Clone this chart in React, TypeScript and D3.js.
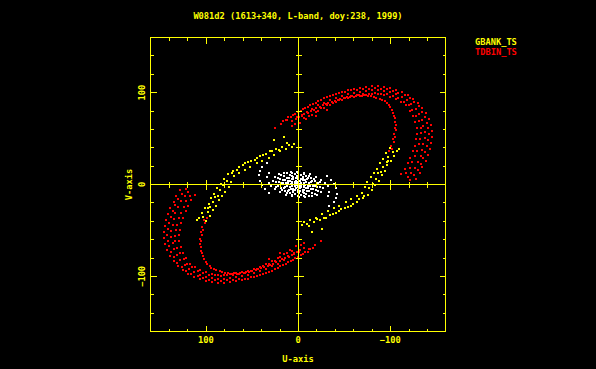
import * as d3 from 'd3';

const W = 596;
const H = 369;
const FRAME = { left: 150.5, right: 445.5, top: 37.5, bottom: 331.5 };
const LIMIT = 160;
const FONT = "'DejaVu Sans Mono', 'Liberation Mono', monospace";
const YELLOW = '#ffff00';
const RED = '#ff0000';

const TITLE = 'W081d2 (1613+340, L-band, doy:238, 1999)';
const SOURCES = ['GBANK_TS', 'TDBIN_TS'];
const U_LABELS = [100, 0, -100];
const V_LABELS = [100, 0, -100];

type Pt = [number, number];

// TDBIN_TS tracks (u, v); each visibility is also drawn at (-u, -v)
const redOuter: Pt[] = [
  [16, 69], [11, 73], [5, 76], [0, 79], [-5, 82], [-11, 84], [-16, 88], [-22, 91], [-28, 94], [-35, 96],
  [-41, 99], [-48, 101], [-54, 103], [-61, 104], [-67, 105], [-74, 106], [-80, 107], [-87, 107], [-93, 106],
  [-100, 105], [-106, 103], [-113, 101], [-119, 97], [-125, 93], [-130, 89], [-134, 83], [-139, 78],
  [-142, 71], [-144, 65], [-145, 58], [-145, 52], [-144, 45], [-143, 39], [-141, 32], [-139, 26],
  [-135, 19], [-132, 13], [-128, 6],
];
const redOuter2: Pt[] = [
  [13, 70], [8, 74], [3, 77], [-3, 80], [-8, 83], [-13, 86], [-19, 89], [-25, 92], [-31, 95], [-38, 97],
  [-44, 100], [-51, 101], [-57, 103], [-64, 103], [-70, 104], [-77, 104], [-84, 105], [-90, 104], [-97, 104],
  [-103, 102], [-109, 100], [-116, 97], [-121, 94], [-126, 90], [-131, 85], [-135, 79], [-138, 73],
  [-140, 67], [-141, 61], [-142, 55], [-141, 48], [-140, 42], [-138, 35], [-136, 29], [-133, 22],
  [-130, 16], [-126, 10], [-122, 5],
];
const redMid: Pt[] = [
  [6, 69], [1, 73], [-4, 76], [-10, 79], [-15, 82], [-22, 86], [-28, 89], [-35, 92], [-41, 94], [-48, 96],
  [-54, 99], [-61, 100], [-67, 101], [-74, 102], [-80, 103], [-87, 103], [-93, 102], [-100, 101],
  [-106, 99], [-113, 95], [-118, 92], [-123, 88], [-128, 82], [-131, 77], [-134, 70], [-136, 64],
  [-138, 57], [-138, 51], [-136, 44], [-135, 38], [-133, 31], [-130, 25], [-127, 18], [-123, 13], [-119, 8],
];
const redMid2: Pt[] = [
  [-6, 72], [-12, 75], [-19, 79], [-25, 83], [-31, 86], [-38, 89], [-45, 92], [-51, 94], [-57, 96],
  [-64, 97], [-71, 98], [-77, 99], [-84, 100], [-90, 99], [-97, 98], [-103, 96], [-109, 94], [-115, 90],
  [-120, 86], [-124, 81], [-128, 75], [-131, 69], [-133, 62], [-133, 56], [-132, 50], [-131, 44],
  [-129, 37], [-127, 31], [-124, 24], [-121, 18], [-117, 12],
];
const redInnerBand: Pt[] = [
  [-2, 67], [-9, 71], [-15, 76], [-22, 80], [-28, 83], [-35, 87], [-41, 90], [-48, 92], [-54, 94],
  [-61, 95], [-67, 96], [-74, 97], [-80, 99], [-87, 99], [-93, 97], [-100, 95], [-106, 93], [-112, 90],
  [-117, 86], [-121, 80], [-125, 75], [-127, 68], [-129, 62], [-129, 55], [-128, 49], [-127, 42],
  [-125, 36], [-122, 29], [-119, 23], [-116, 17], [-112, 11],
];
const redInner: Pt[] = [
  [2, 71], [-4, 75], [-11, 78], [-17, 81], [-24, 84], [-30, 88], [-37, 90], [-43, 92], [-50, 94],
  [-56, 95], [-63, 96], [-69, 96], [-76, 96], [-82, 95], [-89, 93], [-94, 91], [-99, 87], [-102, 81],
  [-104, 75], [-105, 68], [-105, 62], [-104, 55], [-103, 49], [-101, 42], [-99, 36],
];
const redInner2: Pt[] = [
  [-1, 73], [-7, 77], [-14, 80], [-20, 83], [-27, 86], [-33, 89], [-40, 91], [-46, 93], [-53, 95],
  [-59, 96], [-66, 97], [-72, 97], [-79, 96], [-85, 94], [-91, 92], [-96, 89], [-100, 84], [-103, 78],
  [-105, 72], [-106, 65], [-106, 59], [-105, 52], [-104, 46], [-102, 39],
];
const redStray: Pt[] = [[25, 62], [18, 66], [12, 70], [6, 64], [3, 66], [-20, 75], [-31, 81]];

// GBANK_TS tracks
const yellowOuter: Pt[] = [
  [-107, 37], [-104, 31], [-101, 26], [-97, 21], [-94, 15], [-91, 10], [-88, 4], [-84, -1], [-80, -6],
  [-76, -11], [-70, -15], [-64, -19], [-57, -23], [-51, -26], [-44, -29], [-38, -32], [-30, -36],
  [-24, -39], [-17, -41], [-10, -43],
];
const yellowInner: Pt[] = [
  [-95, 34], [-92, 28], [-89, 23], [-86, 17], [-82, 13], [-79, 8], [-75, 3], [-73, -3], [-69, -9],
  [-64, -13], [-58, -16], [-52, -19], [-45, -23], [-39, -26], [-32, -29], [-26, -32], [-19, -36],
  [-13, -39], [-6, -41],
];
const yellowMid: Pt[] = [
  [-103, 35], [-98, 30], [-96, 24], [-92, 19], [-87, 12], [-85, 6], [-81, 1], [-77, -4], [-72, -12],
  [-66, -16], [-60, -21], [-54, -24], [-47, -27], [-41, -31], [-35, -33], [-28, -37], [-21, -38],
  [-12, -45], [-4, -44],
];
const yellowStray: Pt[] = [[-15, -52], [-26, -48], [-110, 39], [-100, 40], [-98, 26], [-90, 14]];

// short baselines near the origin
const whiteArcs: Pt[] = [
  [34, 23], [39, 19], [41, 15], [42, 10], [41, 4], [39, -1], [36, -5], [31, -9],
  [32, 13], [34, 8], [32, 2], [29, -2], [25, -5],
];
const whiteRings: Pt[] = [
  [27, 4], [25, 8], [21, 11], [15, 13], [8, 14], [1, 14], [-6, 13], [-13, 11], [-19, 8], [-24, 3], [-27, -4],
  [24, 3], [22, 7], [18, 10], [12, 12], [6, 12], [0, 12], [-6, 11], [-12, 9], [-17, 6], [-22, 2],
  [21, 3], [19, 6], [15, 9], [9, 10], [3, 11], [-3, 10], [-9, 9], [-14, 7], [-18, 4], [-21, -3],
  [18, 2], [16, 5], [12, 7], [7, 9], [1, 9], [-5, 8], [-11, 7], [-15, 4], [-18, -1],
  [16, 2], [14, 5], [10, 7], [5, 8], [0, 8], [-5, 7], [-10, 6], [-14, 3], [-16, -2],
  [13, 2], [11, 4], [7, 6], [2, 7], [-3, 6], [-8, 5], [-12, 2],
  [11, 2], [9, 4], [5, 6], [0, 6], [-5, 5], [-9, 3], [-11, -2],
  [8, 1], [6, 3], [2, 4], [-2, 4], [-6, 2], [-8, -1],
  [6, 1], [3, 3], [0, 3], [-3, 2], [-6, -1],
  [3, 1], [1, 2], [-1, 1], [0, 0],
];

const redTracks = [redOuter, redOuter2, redMid, redMid2, redInnerBand, redInner, redInner2, redStray];
const yellowTracks = [yellowOuter, yellowInner, yellowMid, yellowStray];
const whiteTracks = [whiteArcs, whiteRings];

export default function App() {
  const x = d3.scaleLinear().domain([LIMIT, -LIMIT]).range([FRAME.left, FRAME.right]);
  const y = d3.scaleLinear().domain([-LIMIT, LIMIT]).range([FRAME.bottom, FRAME.top]);
  const ticks = x.ticks(16).filter((t) => Math.abs(t) < LIMIT);
  const fmt = d3.format('d');
  const isMajor = (t: number) => t % 100 === 0;

  const dots = (tracks: Pt[][], color: string, key: string) =>
    tracks.flat().flatMap(([u, v], i) => [
      <rect key={`${key}a${i}`} x={Math.round(x(u)) - 1} y={Math.round(y(v)) - 1} width={2} height={2} fill={color} />,
      <rect key={`${key}b${i}`} x={Math.round(x(-u)) - 1} y={Math.round(y(-v)) - 1} width={2} height={2} fill={color} />,
    ]);

  const x0 = Math.round(x(0)) + 0.5;
  const y0 = Math.floor(y(0)) + 0.5;

  return (
    <svg width={W} height={H} style={{ position: 'fixed', left: 0, top: 0, background: '#000' }}>
      <rect width={W} height={H} fill="#000" />

      {dots(whiteTracks, '#ffffff', 'w')}
      {dots(yellowTracks, YELLOW, 'y')}
      {dots(redTracks, RED, 'r')}

      <g stroke={YELLOW} strokeWidth={1} shapeRendering="crispEdges" fill="none">
        <rect x={FRAME.left} y={FRAME.top} width={FRAME.right - FRAME.left} height={FRAME.bottom - FRAME.top} />
        <line x1={x0} x2={x0} y1={FRAME.top} y2={FRAME.bottom} />
        <line x1={FRAME.left} x2={FRAME.right} y1={y0} y2={y0} />
        {ticks.map((t) => {
          const len = isMajor(t) ? 6 : 3;
          const half = isMajor(t) ? 5 : 3;
          const px = Math.round(x(t)) + 0.5;
          const py = Math.floor(y(t)) + 0.5;
          return (
            <g key={t}>
              <line x1={px} x2={px} y1={FRAME.top} y2={FRAME.top + len} />
              <line x1={px} x2={px} y1={FRAME.bottom} y2={FRAME.bottom - len} />
              <line x1={FRAME.left} x2={FRAME.left + len} y1={py} y2={py} />
              <line x1={FRAME.right} x2={FRAME.right - len} y1={py} y2={py} />
              <line x1={px} x2={px} y1={y0 - half} y2={y0 + half} />
              <line x1={x0 - half} x2={x0 + half} y1={py} y2={py} />
            </g>
          );
        })}
      </g>

      <g fontFamily={FONT} fontSize={8.7} fontWeight="bold" fill={YELLOW}>
        <text x={298} y={19} textAnchor="middle">{TITLE}</text>
        {U_LABELS.map((t) => (
          <text key={`u${t}`} x={x(t)} y={342.5} textAnchor="middle">{fmt(t)}</text>
        ))}
        {V_LABELS.map((t) => (
          <text key={`v${t}`} transform={`translate(145,${y(t)}) rotate(-90)`} textAnchor="middle">{fmt(t)}</text>
        ))}
        <text x={298} y={361.5} textAnchor="middle">U-axis</text>
        <text transform="translate(131.5,184.5) rotate(-90)" textAnchor="middle">V-axis</text>
        {SOURCES.map((s, i) => (
          <text key={s} x={475} y={45.3 + i * 10} fill={i === 0 ? YELLOW : RED}>{s}</text>
        ))}
      </g>
    </svg>
  );
}
